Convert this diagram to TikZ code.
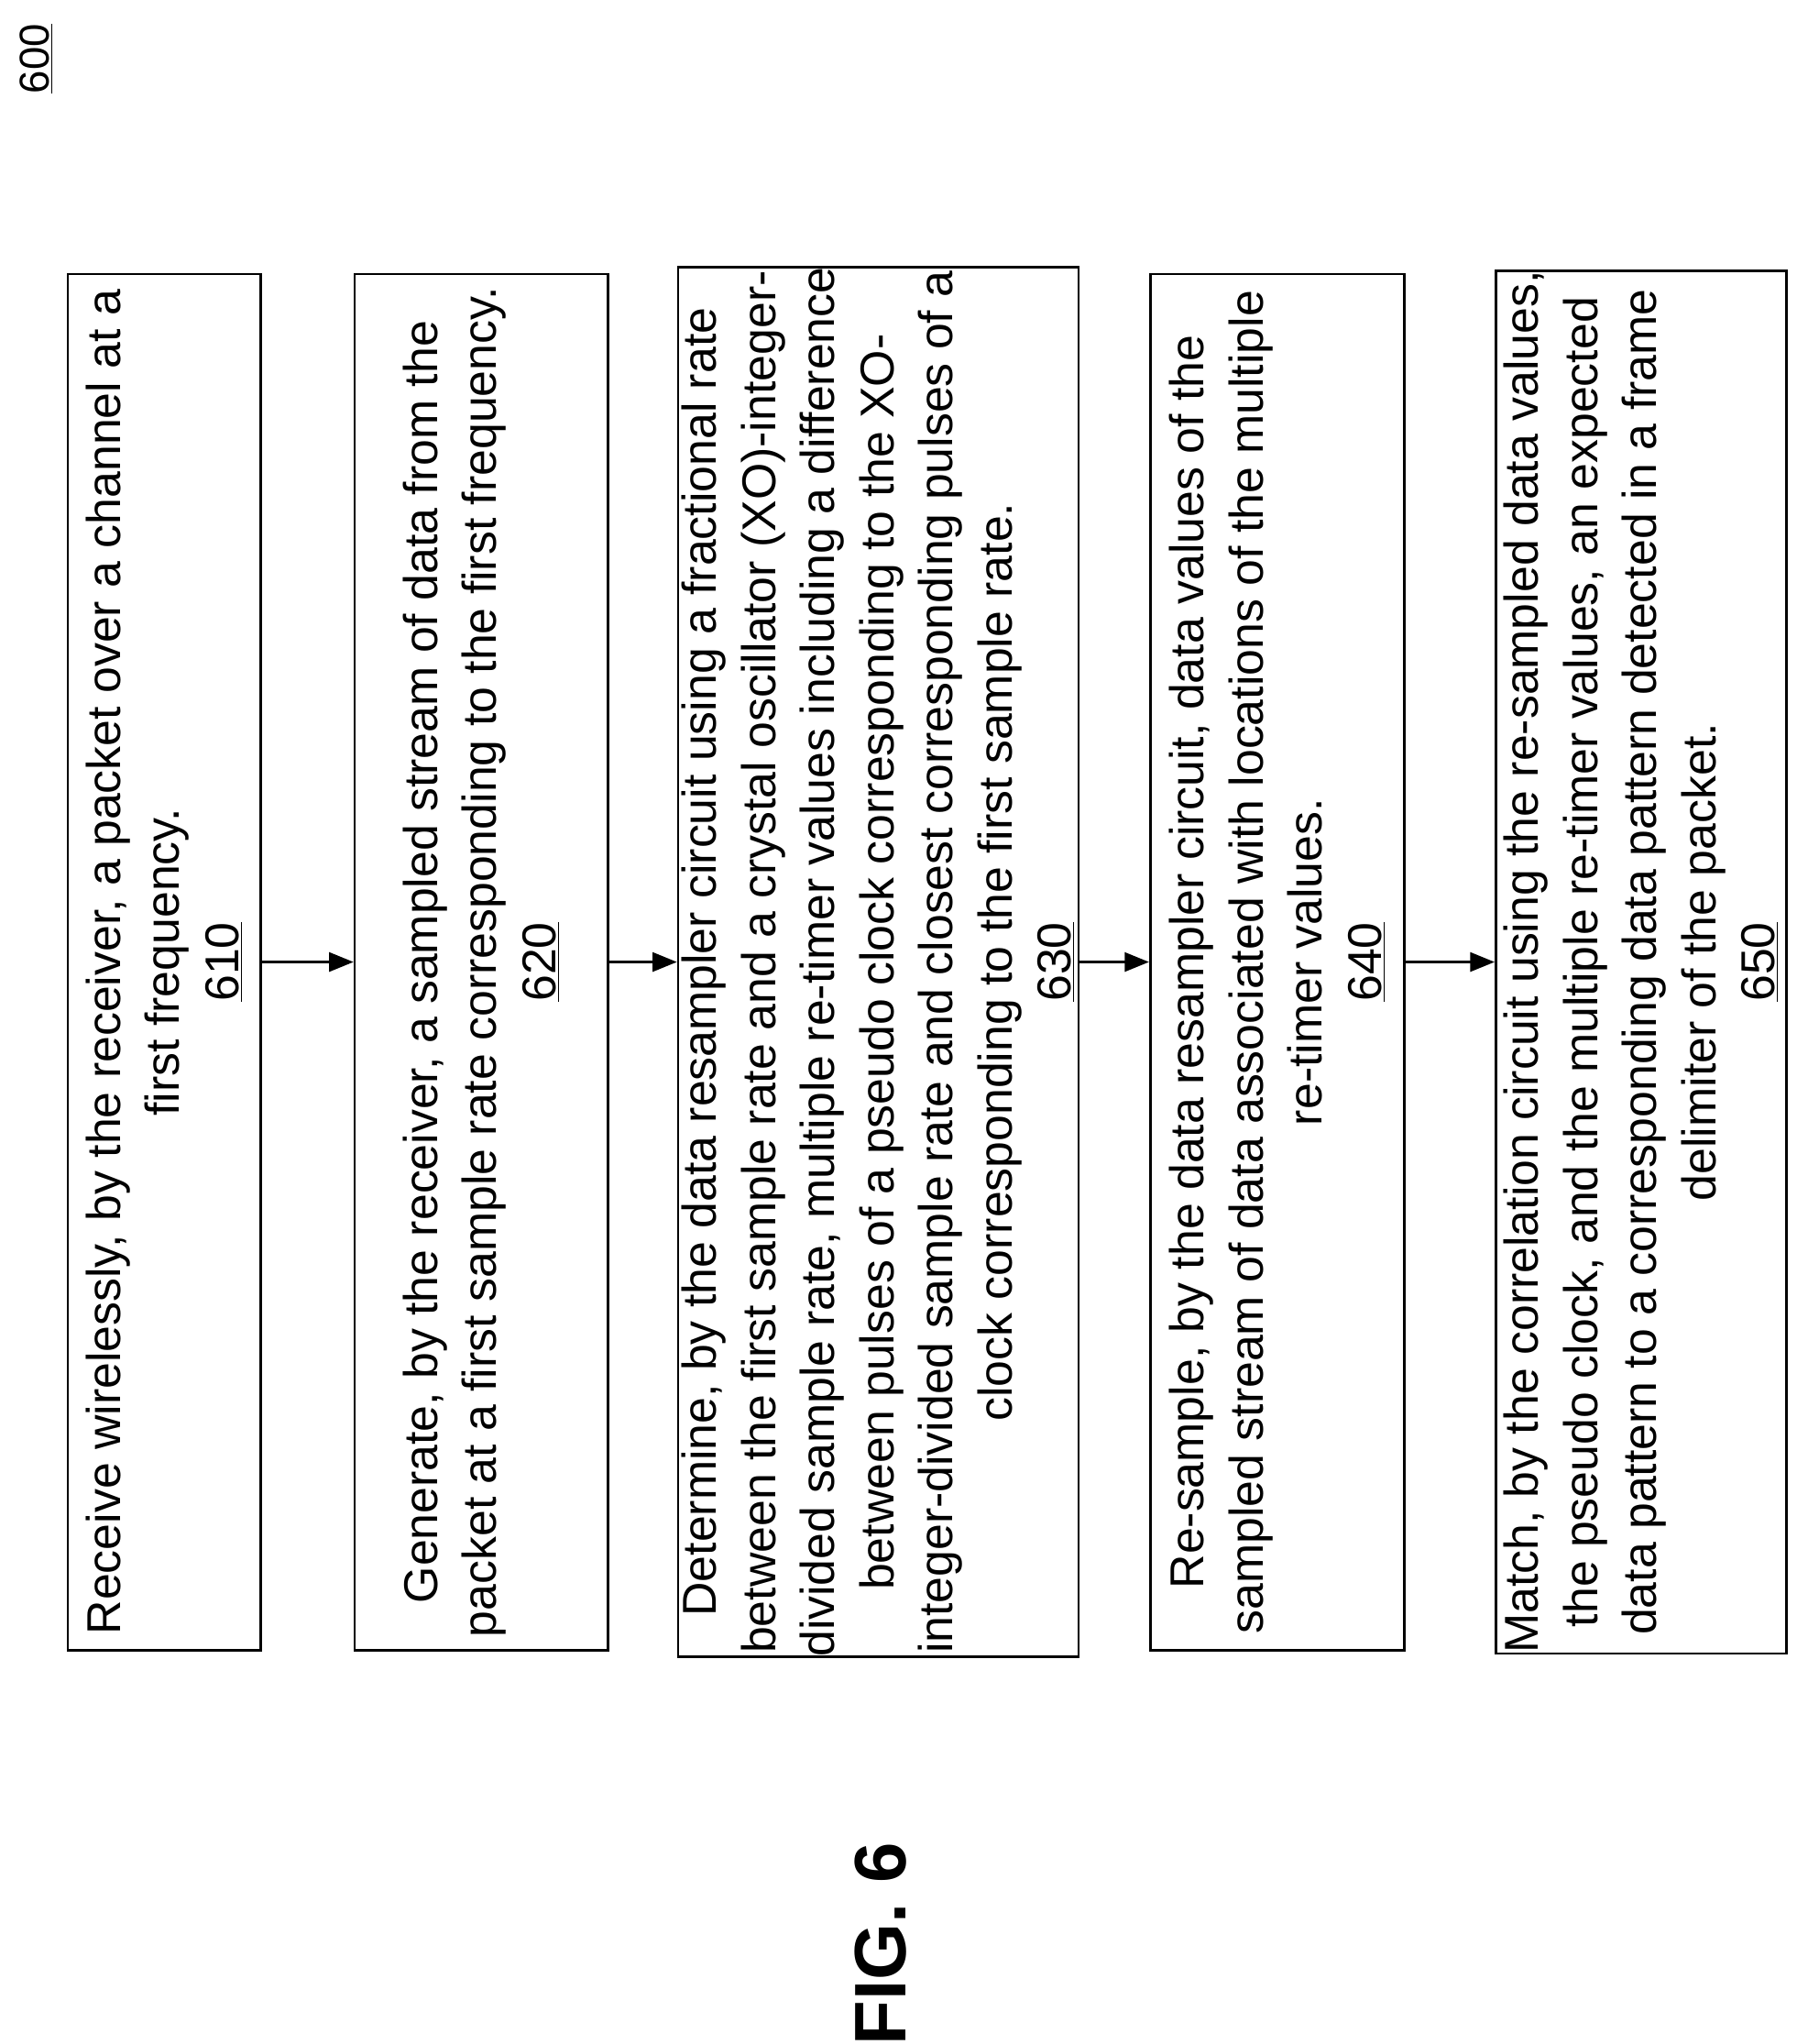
\documentclass[tikz,border=0pt]{standalone}
\usepackage{fontspec}
\setmainfont{Liberation Sans}
\usetikzlibrary{arrows.meta}
\begin{document}
\begin{tikzpicture}[x=0.75pt,y=-0.75pt,
  box/.style={draw,line width=1.4pt,rotate=90,minimum width=791.25pt,align=center,inner sep=0pt,font=\fontsize{27.3}{34}\selectfont},
  arr/.style={-{Triangle[length=14pt,width=11pt]},line width=1.4pt}]
\useasboundingbox (0,0) rectangle (1386,1567);
\node[rotate=90,font=\fontsize{24}{28}\selectfont] (fig) at (28,45) {\underline{600}};
\node[rotate=90,font=\bfseries\fontsize{42}{48}\selectfont] (title) at (675,1490) {FIG. 6};
\node[box,minimum height=111pt] (b1) at (126,737.5) {Receive wirelessly, by the receiver, a packet over a channel at a\\first frequency.\\\underline{610}};
\node[box,minimum height=145.5pt] (b2) at (369,737.5) {Generate, by the receiver, a sampled stream of data from the\\packet at a first sample rate corresponding to the first frequency.\\\underline{620}};
\node[box,minimum height=230.25pt] (b3) at (673.5,737.5) {Determine, by the data resampler circuit using a fractional rate\\between the first sample rate and a crystal oscillator (XO)-integer-\\divided sample rate, multiple re-timer values including a difference\\between pulses of a pseudo clock corresponding to the XO-\\integer-divided sample rate and closest corresponding pulses of a\\clock corresponding to the first sample rate.\\\underline{630}};
\node[box,minimum height=146.25pt] (b4) at (979.5,737.5) {Re-sample, by the data resampler circuit, data values of the\\sampled stream of data associated with locations of the multiple\\re-timer values.\\\underline{640}};
\node[box,minimum height=167.25pt] (b5) at (1258.5,737.5) {Match, by the correlation circuit using the re-sampled data values,\\the pseudo clock, and the multiple re-timer values, an expected\\data pattern to a corresponding data pattern detected in a frame\\delimiter of the packet.\\\underline{650}};
\draw[arr] (b1.south) -- (b2.north);
\draw[arr] (b2.south) -- (b3.north);
\draw[arr] (b3.south) -- (b4.north);
\draw[arr] (b4.south) -- (b5.north);
\end{tikzpicture}
\end{document}
